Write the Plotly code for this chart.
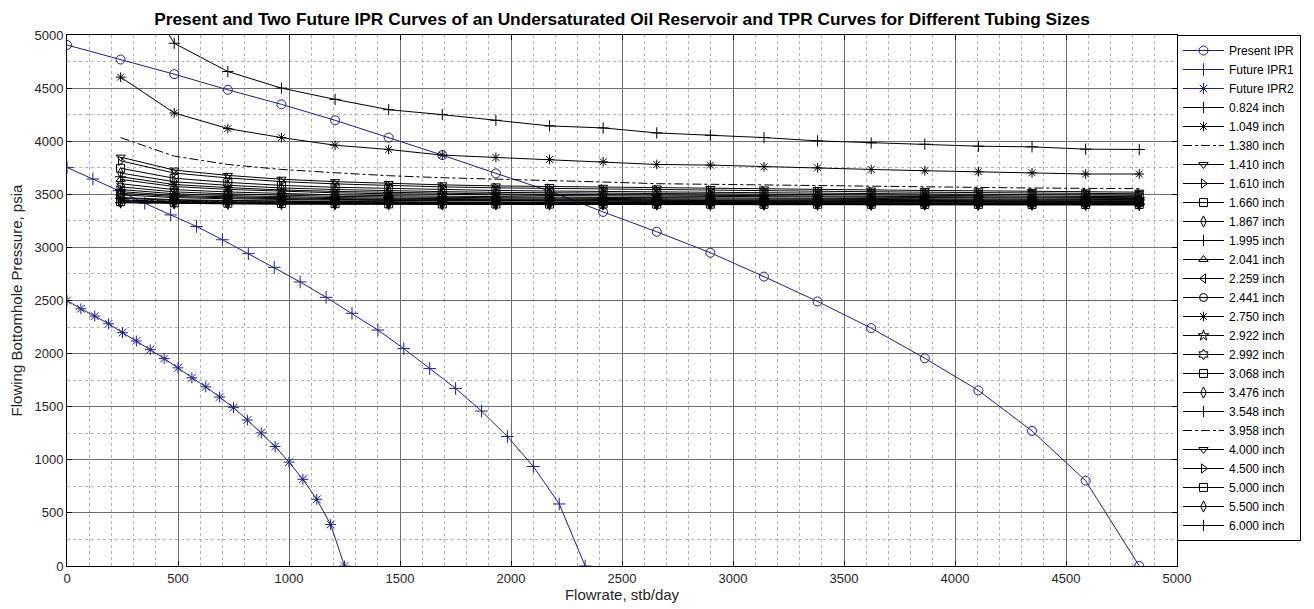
import plotly.graph_objects as go

# ---------------- data ----------------
ipr_present_q = [0, 241.5, 483, 724.5, 966, 1207.5, 1449, 1690.5, 1932, 2173.5, 2415,
                 2656.5, 2898, 3139.5, 3381, 3622.5, 3864, 4105.5, 4347, 4588.5, 4830]
ipr_present_p = [4906, 4769, 4631, 4484, 4347, 4197, 4034, 3869, 3697, 3531, 3334,
                 3147, 2950, 2725, 2491, 2240, 1956, 1653, 1272, 803, 0]

ipr_f1_q = [0, 116.7, 233.4, 350.1, 466.8, 583.5, 700.2, 816.9, 933.6, 1050.3, 1167,
            1283.7, 1400.4, 1517.1, 1633.8, 1750.5, 1867.2, 1983.9, 2100.6, 2217.3, 2334]
ipr_f1_p = [3753, 3644, 3534, 3416, 3306, 3197, 3072, 2941, 2812, 2675, 2530,
            2380, 2222, 2047, 1859, 1672, 1459, 1219, 937, 584, 0]

ipr_f2_q = [0, 62.5, 125, 187.5, 250, 312.5, 375, 437.5, 500, 562.5, 625,
            687.5, 750, 812.5, 875, 937.5, 1000, 1062.5, 1125, 1187.5, 1250]
ipr_f2_p = [2500, 2422, 2353, 2281, 2197, 2119, 2037, 1953, 1866, 1772, 1687,
            1591, 1491, 1375, 1253, 1125, 978, 816, 628, 391, 0]

tpr_q = [241.5, 483, 724.5, 966, 1207.5, 1449, 1690.5, 1932, 2173.5, 2415,
         2656.5, 2898, 3139.5, 3381, 3622.5, 3864, 4105.5, 4347, 4588.5, 4830]

tubing_labels = ["0.824 inch", "1.049 inch", "1.380 inch", "1.410 inch", "1.610 inch",
                 "1.660 inch", "1.867 inch", "1.995 inch", "2.041 inch", "2.259 inch",
                 "2.441 inch", "2.750 inch", "2.922 inch", "2.992 inch", "3.068 inch",
                 "3.476 inch", "3.548 inch", "3.958 inch", "4.000 inch", "4.500 inch",
                 "5.000 inch", "5.500 inch", "6.000 inch"]

tpr_0824 = [5770, 4922, 4656, 4500, 4394, 4297, 4250, 4197, 4144, 4125, 4078, 4056, 4034, 4003, 3984, 3972, 3953, 3947, 3925, 3922]
tpr_1049 = [4603, 4266, 4119, 4034, 3962, 3922, 3869, 3847, 3828, 3806, 3781, 3775, 3759, 3750, 3734, 3722, 3712, 3703, 3691, 3691]
tpr_1380 = [4034, 3859, 3781, 3734, 3703, 3675, 3656, 3644, 3628, 3616, 3600, 3594, 3584, 3578, 3575, 3569, 3562, 3559, 3556, 3553]
tpr_1410 = [3850, 3728, 3678, 3642, 3619, 3602, 3589, 3579, 3573, 3566, 3560, 3555, 3550, 3545, 3540, 3536, 3533, 3528, 3523, 3520]
tpr_1610 = [3815, 3700, 3654, 3620, 3598, 3582, 3570, 3561, 3555, 3548, 3542, 3538, 3533, 3528, 3524, 3520, 3517, 3513, 3508, 3505]
tpr_1660 = [3745, 3651, 3612, 3584, 3566, 3554, 3544, 3536, 3531, 3526, 3521, 3517, 3513, 3509, 3505, 3503, 3500, 3496, 3493, 3490]
tpr_1867 = [3700, 3618, 3585, 3560, 3545, 3533, 3525, 3518, 3514, 3509, 3505, 3501, 3498, 3495, 3491, 3489, 3487, 3484, 3480, 3478]
tpr_1995 = [3665, 3592, 3563, 3541, 3527, 3517, 3509, 3503, 3500, 3496, 3492, 3489, 3486, 3483, 3480, 3478, 3476, 3473, 3470, 3468]
tpr_2041 = [3640, 3573, 3546, 3527, 3514, 3505, 3498, 3492, 3489, 3485, 3482, 3479, 3476, 3473, 3471, 3469, 3467, 3464, 3462, 3460]
tpr_2259 = [3600, 3544, 3522, 3505, 3495, 3487, 3481, 3477, 3474, 3471, 3468, 3466, 3463, 3461, 3459, 3457, 3456, 3454, 3451, 3450]
tpr_2441 = [3570, 3523, 3504, 3490, 3481, 3475, 3470, 3466, 3463, 3461, 3458, 3456, 3454, 3453, 3451, 3449, 3448, 3446, 3444, 3443]
tpr_2750 = [3545, 3505, 3488, 3476, 3469, 3463, 3459, 3456, 3453, 3451, 3449, 3447, 3446, 3444, 3443, 3441, 3440, 3439, 3437, 3436]
tpr_2922 = [3525, 3490, 3476, 3466, 3459, 3454, 3451, 3448, 3446, 3444, 3442, 3441, 3439, 3438, 3437, 3436, 3435, 3433, 3432, 3431]
tpr_2992 = [3510, 3479, 3467, 3458, 3452, 3448, 3444, 3442, 3440, 3439, 3437, 3436, 3434, 3433, 3432, 3431, 3430, 3429, 3428, 3427]
tpr_3068 = [3495, 3469, 3458, 3450, 3445, 3442, 3439, 3437, 3435, 3434, 3433, 3431, 3430, 3429, 3428, 3428, 3427, 3426, 3425, 3424]
tpr_3476 = [3470, 3450, 3442, 3436, 3432, 3429, 3427, 3426, 3425, 3424, 3422, 3422, 3421, 3420, 3419, 3419, 3418, 3417, 3417, 3416]
tpr_3548 = [3462, 3444, 3437, 3432, 3428, 3426, 3424, 3423, 3422, 3421, 3420, 3419, 3418, 3418, 3417, 3416, 3416, 3415, 3414, 3414]
tpr_3958 = [3448, 3434, 3428, 3424, 3421, 3419, 3418, 3417, 3416, 3415, 3415, 3414, 3413, 3413, 3412, 3412, 3412, 3411, 3410, 3410]
tpr_4000 = [3446, 3432, 3427, 3423, 3420, 3418, 3417, 3416, 3415, 3414, 3413, 3413, 3412, 3412, 3411, 3411, 3410, 3410, 3409, 3409]
tpr_4500 = [3437, 3426, 3421, 3417, 3415, 3414, 3413, 3412, 3411, 3410, 3410, 3409, 3409, 3408, 3408, 3408, 3407, 3407, 3406, 3406]
tpr_5000 = [3430, 3420, 3416, 3414, 3412, 3410, 3409, 3409, 3408, 3408, 3407, 3407, 3406, 3406, 3406, 3405, 3405, 3405, 3404, 3404]
tpr_5500 = [3425, 3416, 3413, 3411, 3409, 3408, 3407, 3406, 3406, 3405, 3405, 3404, 3404, 3404, 3403, 3403, 3403, 3403, 3402, 3402]
tpr_6000 = [3420, 3413, 3410, 3407, 3406, 3405, 3404, 3404, 3403, 3403, 3402, 3402, 3402, 3401, 3401, 3401, 3401, 3400, 3400, 3400]

tpr_series = [tpr_0824, tpr_1049, tpr_1380, tpr_1410, tpr_1610, tpr_1660, tpr_1867, tpr_1995,
              tpr_2041, tpr_2259, tpr_2441, tpr_2750, tpr_2922, tpr_2992, tpr_3068, tpr_3476,
              tpr_3548, tpr_3958, tpr_4000, tpr_4500, tpr_5000, tpr_5500, tpr_6000]

x_ticks = [0, 500, 1000, 1500, 2000, 2500, 3000, 3500, 4000, 4500, 5000]
y_ticks = [0, 500, 1000, 1500, 2000, 2500, 3000, 3500, 4000, 4500, 5000]

# ---------------- styles ----------------
# MATLAB marker cycle: + * (none, -.) v > s d + ^ < o * p h s d + (none, -.) v > s d +
tpr_symbols = ["cross-thin-open", "asterisk-open", None, "triangle-down-open", "triangle-right-open",
               "square-open", "diamond-tall-open", "cross-thin-open", "triangle-up-open",
               "triangle-left-open", "circle-open", "asterisk-open", "star-open", "hexagram-open",
               "square-open", "diamond-tall-open", "cross-thin-open", None, "triangle-down-open",
               "triangle-right-open", "square-open", "diamond-tall-open", "cross-thin-open"]

BLUE = "#1f1f99"
BLACK = "#000000"
FONT = "Liberation Sans, Arial, Helvetica, sans-serif"

fig = go.Figure()

def add_ipr(q, p, name, symbol):
    fig.add_trace(go.Scatter(
        x=q, y=p, name=name, mode="lines+markers",
        line=dict(color=BLUE, width=1),
        marker=dict(symbol=symbol, size=9, color=BLUE, line=dict(width=1, color=BLUE)),
    ))

add_ipr(ipr_present_q, ipr_present_p, "Present IPR", "circle-open")
add_ipr(ipr_f1_q, ipr_f1_p, "Future IPR1", "cross-thin-open")
add_ipr(ipr_f2_q, ipr_f2_p, "Future IPR2", "asterisk-open")

for label, vals, sym in zip(tubing_labels, tpr_series, tpr_symbols):
    if sym is None:
        fig.add_trace(go.Scatter(
            x=tpr_q, y=vals, name=label, mode="lines",
            line=dict(color=BLACK, width=1, dash="dashdot"),
        ))
    else:
        fig.add_trace(go.Scatter(
            x=tpr_q, y=vals, name=label, mode="lines+markers",
            line=dict(color=BLACK, width=1),
            marker=dict(symbol=sym, size=8, color=BLACK, line=dict(width=1, color=BLACK)),
        ))

axis_common = dict(
    showline=True, linecolor="#000000", linewidth=1, mirror="ticks",
    ticks="inside", ticklen=5, tickcolor="#000000",
    showgrid=True, gridcolor="#6e6e6e", gridwidth=1,
    zeroline=False, automargin=False,
    tickfont=dict(family=FONT, size=13, color="#262626"),
)

# The page body adds an 8 px offset, so the figure is sized 8 px smaller.
fig.update_layout(
    width=1306, height=601,
    margin=dict(l=59, r=137, t=27, b=43),
    paper_bgcolor="white", plot_bgcolor="white",
    font=dict(family=FONT, color="#000000"),
    title=dict(
        text="<b>Present and Two Future IPR Curves of an Undersaturated Oil Reservoir and TPR Curves for Different Tubing Sizes</b>",
        x=(59 + 1169) / 2 / 1306, xref="container", xanchor="center",
        y=1 - 11 / 601, yref="container", yanchor="middle",
        font=dict(family=FONT, size=17.3, color="#000000"),
    ),
    xaxis=dict(
        range=[0, 5000], tickvals=x_ticks, ticktext=[str(v) for v in x_ticks],
        title=dict(text="Flowrate, stb/day", font=dict(family=FONT, size=15, color="#262626"), standoff=2),
        minor=dict(dtick=100, tick0=0, showgrid=True, gridcolor="#b4b4b4", griddash="dot", gridwidth=1, ticks=""),
        **axis_common,
    ),
    yaxis=dict(
        range=[0, 5000], tickvals=y_ticks, ticktext=[str(v) for v in y_ticks],
        title=dict(text="Flowing Bottomhole Pressure, psia", font=dict(family=FONT, size=15, color="#262626"), standoff=14),
        minor=dict(dtick=250, tick0=0, showgrid=True, gridcolor="#b4b4b4", griddash="dot", gridwidth=1, ticks=""),
        **axis_common,
    ),
    legend=dict(
        x=1.0, xref="paper", xanchor="left", y=1.0, yanchor="top",
        bordercolor="#000000", borderwidth=1, bgcolor="white",
        font=dict(family=FONT, size=12, color="#000000"),
        itemwidth=41, tracegroupgap=0,
    ),
    showlegend=True,
)

fig.write_html("out.html")
